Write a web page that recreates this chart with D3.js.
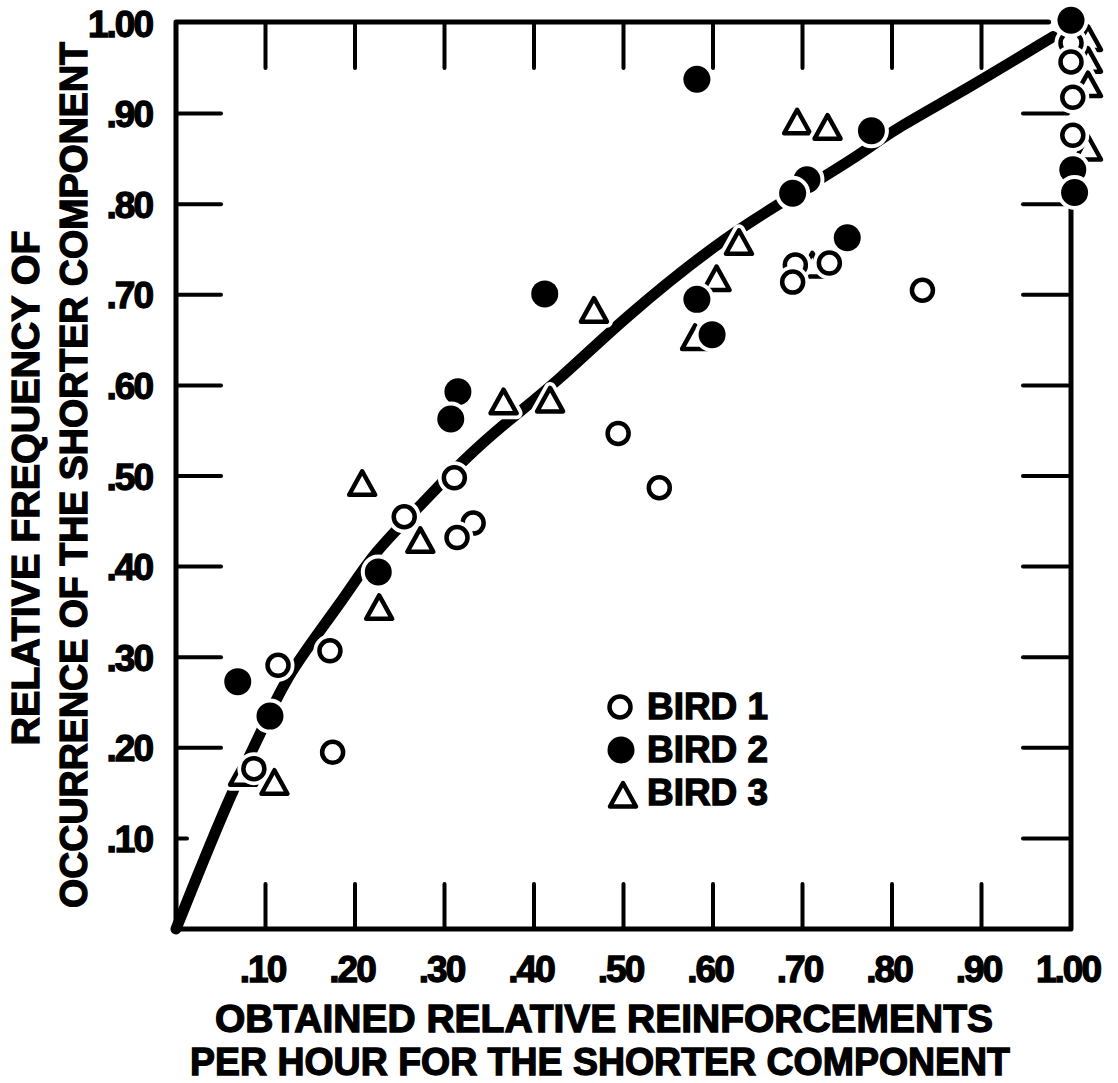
<!DOCTYPE html>
<html>
<head>
<meta charset="utf-8">
<script src="https://cdn.jsdelivr.net/npm/d3@7/dist/d3.min.js"></script>
<style>
  body { margin: 0; background: #fff; }
  text { font-family: 'Liberation Sans', Arial, sans-serif; font-weight: bold; fill: #000; stroke: #000; stroke-width: 1.3px; }
</style>
</head>
<body>
<div id="chart"></div>
<script>
let width = 1118,
  height = 1083

// [obtained relative reinforcements, relative frequency]
// order matters: later points sit on top of earlier ones
let bird3 = [[0.075, 0.172], [0.110, 0.162], [0.227, 0.355], [0.208, 0.492], [0.273, 0.429],
  [0.366, 0.582], [0.418, 0.584], [0.467, 0.683], [0.580, 0.653], [0.604, 0.718], [0.629, 0.758],
  [0.694, 0.891], [0.728, 0.885], [0.711, 0.733], [1.019, 0.983], [1.019, 0.959], [1.019, 0.932],
  [1.019, 0.862]]
let bird1 = [[0.087, 0.177], [0.114, 0.291], [0.172, 0.307], [0.175, 0.195], [0.255, 0.455],
  [0.311, 0.498], [0.332, 0.448], [0.314, 0.432], [0.494, 0.547], [0.540, 0.487], [0.692, 0.733],
  [0.689, 0.714], [0.730, 0.735], [0.834, 0.705], [1.000, 0.978], [1.000, 0.957], [1.002, 0.918],
  [1.002, 0.876]]
let bird2 = [[0.069, 0.273], [0.105, 0.235], [0.226, 0.394], [0.315, 0.593], [0.307, 0.563],
  [0.412, 0.701], [0.582, 0.695], [0.599, 0.656], [0.582, 0.938], [0.705, 0.827], [0.689, 0.812],
  [0.750, 0.763], [0.777, 0.881], [1.000, 1.003], [1.002, 0.838], [1.004, 0.813]]

// fitted curve
let fitX = [0, 0.061, 0.095, 0.123, 0.187, 0.220, 0.276, 0.321, 0.372, 0.425, 0.501, 0.608, 0.675, 0.727, 0.772, 0.798, 0.887, 0.980]
let fitY = [0, 0.150, 0.216, 0.280, 0.363, 0.415, 0.470, 0.518, 0.562, 0.603, 0.675, 0.760, 0.801, 0.832, 0.860, 0.880, 0.929, 0.985]

let tickValues = [0.1, 0.2, 0.3, 0.4, 0.5, 0.6, 0.7, 0.8, 0.9]
let xTickLabels = ['.10', '.20', '.30', '.40', '.50', '.60', '.70', '.80', '.90', '1.00']
let yTickLabels = ['.10', '.20', '.30', '.40', '.50', '.60', '.70', '.80', '.90', '1.00']
let legendLabels = ['BIRD 1', 'BIRD 2', 'BIRD 3']
let xTitle = ['OBTAINED RELATIVE REINFORCEMENTS', 'PER HOUR FOR THE SHORTER COMPONENT']
let yTitle = ['RELATIVE FREQUENCY OF', 'OCCURRENCE OF THE SHORTER COMPONENT']

let svg = d3.select('#chart')
  .append('svg')
  .attr('width', width)
  .attr('height', height)

let x = d3.scaleLinear().domain([0, 1]).range([176, 1071])
let y = d3.scaleLinear().domain([0, 1]).range([929, 23])

let ink = svg.append('g')
  .attr('stroke', '#000')
  .attr('stroke-linecap', 'round')

// frame: the top and right sides stop short of the points at 1.00
ink.append('path')
  .attr('fill', 'none')
  .attr('stroke-width', 5)
  .attr('stroke-linejoin', 'round')
  .attr('d', `M${x(0.975)},${y(1) - 1}H${x(0)}V${y(0)}H${x(1)}V${y(0.795)}`)

let tickLen = 45
tickValues.forEach((v, i) => {
  // bottom and top, pointing inward
  ink.append('line').attr('x1', x(v)).attr('x2', x(v)).attr('y1', y(0)).attr('y2', y(0) - tickLen).attr('stroke-width', 4)
  ink.append('line').attr('x1', x(v)).attr('x2', x(v)).attr('y1', y(1)).attr('y2', y(1) + tickLen).attr('stroke-width', 4)
  // left (the .10 one is only a stub) and right
  ink.append('line').attr('x1', x(0)).attr('x2', x(0) + (i == 0 ? 11 : tickLen)).attr('y1', y(v)).attr('y2', y(v)).attr('stroke-width', 4)
  ink.append('line').attr('x1', x(1) - 3).attr('x2', x(1) - 3 - tickLen).attr('y1', y(v)).attr('y2', y(v)).attr('stroke-width', 4)
})

// fitted function
let line = d3.line()
  .x(d => x(d[0]))
  .y(d => y(d[1]))
  .curve(d3.curveBasis)

ink.append('path')
  .datum(fitX.map((v, i) => [v, fitY[i]]))
  .attr('fill', 'none')
  .attr('stroke-width', 11)
  .attr('d', line)

// markers, each with a white halo that cuts whatever lies under it
let triPath = 'M0,-12L13,11.5L-13,11.5Z'

function marker(g, kind, cx, cy, halo) {
  let m = g.append('g').attr('transform', `translate(${cx},${cy})`)
  if (kind == 'tri') {
    if (halo) m.append('path').attr('d', triPath).attr('fill', '#fff').attr('stroke', '#fff').attr('stroke-width', 12).attr('stroke-linejoin', 'round')
    m.append('path').attr('d', triPath).attr('fill', '#fff').attr('stroke', '#000').attr('stroke-width', 4.5).attr('stroke-linejoin', 'round')
  } else if (kind == 'open') {
    if (halo) m.append('circle').attr('r', 10.5).attr('fill', '#fff').attr('stroke', '#fff').attr('stroke-width', 12)
    m.append('circle').attr('r', 10.5).attr('fill', '#fff').attr('stroke', '#000').attr('stroke-width', 4.5)
  } else {
    if (halo) m.append('circle').attr('r', 13.5).attr('fill', '#fff').attr('stroke', '#fff').attr('stroke-width', 8)
    m.append('circle').attr('r', 13.5).attr('fill', '#000')
  }
}

let pts = svg.append('g')
bird3.forEach(d => marker(pts, 'tri', x(d[0]), y(d[1]), true))
bird1.forEach(d => marker(pts, 'open', x(d[0]), y(d[1]), true))
bird2.forEach(d => marker(pts, 'fill', x(d[0]), y(d[1]), true))

// tick labels
svg.append('g').selectAll('text')
  .data(tickValues.concat([1]))
  .enter().append('text')
  .attr('x', d => x(d) - 3)
  .attr('y', 982)
  .attr('text-anchor', 'middle')
  .attr('font-size', 37)
  .attr('letter-spacing', -2)
  .text((d, i) => xTickLabels[i])

svg.append('g').selectAll('text')
  .data(tickValues.concat([1]))
  .enter().append('text')
  .attr('x', 152)
  .attr('y', d => y(d))
  .attr('dy', '0.37em')
  .attr('text-anchor', 'end')
  .attr('font-size', 37)
  .attr('letter-spacing', -2)
  .text((d, i) => yTickLabels[i])

// axis titles
svg.append('text').attr('x', 604).attr('y', 1032).attr('text-anchor', 'middle')
  .attr('font-size', 38).attr('textLength', 778).attr('lengthAdjust', 'spacingAndGlyphs').text(xTitle[0])
svg.append('text').attr('x', 600).attr('y', 1075).attr('text-anchor', 'middle')
  .attr('font-size', 38).attr('textLength', 820).attr('lengthAdjust', 'spacingAndGlyphs').text(xTitle[1])

svg.append('text').attr('transform', 'translate(39,488) rotate(-90)').attr('text-anchor', 'middle')
  .attr('font-size', 38).attr('textLength', 515).attr('lengthAdjust', 'spacingAndGlyphs').text(yTitle[0])
svg.append('text').attr('transform', 'translate(87,475) rotate(-90)').attr('text-anchor', 'middle')
  .attr('font-size', 38).attr('textLength', 866).attr('lengthAdjust', 'spacingAndGlyphs').text(yTitle[1])

// legend
let legend = svg.append('g').attr('transform', 'translate(620,707)')
let kinds = ['open', 'fill', 'tri']
legendLabels.forEach((l, i) => {
  marker(legend, kinds[i], i == 2 ? 3 : i, i * 43 + (i == 2 ? 2 : 0), false)
  legend.append('text')
    .attr('x', 27)
    .attr('y', i * 43 + 12)
    .attr('font-size', 36)
    .attr('textLength', 121)
    .attr('lengthAdjust', 'spacingAndGlyphs')
    .text(l)
})
</script>
</body>
</html>
